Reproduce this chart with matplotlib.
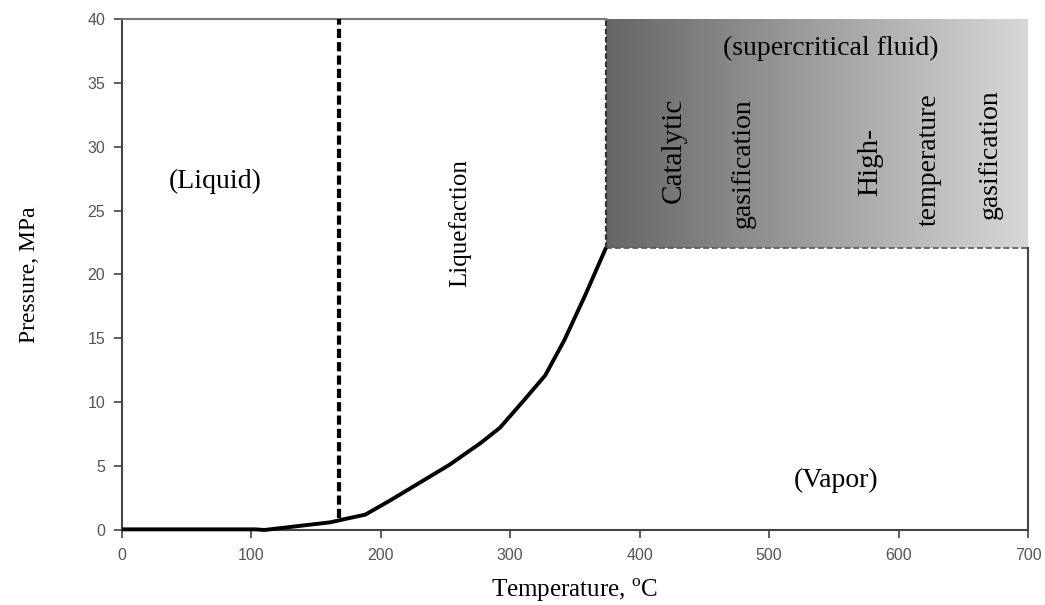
import numpy as np
import matplotlib
matplotlib.use("Agg")
import matplotlib.pyplot as plt
from matplotlib.colors import LinearSegmentedColormap

plt.rcParams['mathtext.fontset'] = 'custom'
plt.rcParams['mathtext.rm'] = 'Liberation Serif'

# boiling curve (temperature C, pressure MPa)
temp = [0, 103, 110, 161, 172, 188, 207, 230, 253, 277, 292, 311, 327, 342, 358, 374]
pres = [0.05, 0.05, 0.0, 0.6, 0.85, 1.2, 2.3, 3.7, 5.1, 6.8, 8.0, 10.2, 12.1, 14.9, 18.4, 22.1]

crit_T = 374
crit_P = 22.1
liq_T = 168
liq_P_low = 0.9

xticks = [0, 100, 200, 300, 400, 500, 600, 700]
yticks = [0, 5, 10, 15, 20, 25, 30, 35, 40]

# region labels: text, x, y, rotation, size
labels = [
    ('(Liquid)', 72, 27.3, 0, 20),
    ('Liquefaction', 261, 24.0, 90, 18),
    ('(supercritical fluid)', 548, 37.7, 0, 20),
    ('Catalytic', 426, 29.7, 90, 21),
    ('gasification', 480, 28.7, 90, 20),
    ('High-', 578, 28.8, 90, 21),
    ('temperature', 624, 29.0, 90, 20),
    ('gasification', 671, 29.4, 90, 20),
    ('(Vapor)', 552, 3.9, 0, 20),
]

serif = 'Liberation Serif'

fig = plt.figure(figsize=(10.45, 6.05), dpi=100)
ax = fig.add_axes([0.1167, 0.124, 0.867, 0.8446])
ax.set_xlim(0, 700)
ax.set_ylim(0, 40)

# supercritical region with grey gradient
grad = np.linspace(0, 1, 256).reshape(1, -1)
cmap = LinearSegmentedColormap.from_list('g', ['#666666', '#d8d8d8'])
ax.imshow(grad, extent=[crit_T, 700, crit_P, 40], aspect='auto', cmap=cmap, zorder=0)
ax.plot([crit_T, crit_T], [crit_P, 40], color='#333333', lw=1.6, ls=(0, (2.5, 1.2)), zorder=2)
ax.plot([crit_T, 700], [crit_P, crit_P], color='#555555', lw=1.2, ls=(0, (3.5, 1.8)), zorder=2)

# spines: top only up to box, right only below box
for s in ['top', 'right']:
    ax.spines[s].set_visible(False)
for s in ['left', 'bottom']:
    ax.spines[s].set_color('#444444')
    ax.spines[s].set_linewidth(1.5)
ax.plot([0, crit_T], [40, 40], color='#777777', lw=1.5, clip_on=False, zorder=3)
ax.plot([700, 700], [0, crit_P], color='#444444', lw=1.5, clip_on=False, zorder=3)

# curves
ax.plot(temp, pres, color='black', lw=2.8, solid_capstyle='butt', clip_on=False, zorder=4)
ax.plot([liq_T, liq_T], [liq_P_low, 40], color='black', lw=3, ls=(0, (2.2, 1.0)), zorder=4)

ax.set_xticks(xticks)
ax.set_yticks(yticks)
ax.tick_params(direction='out', length=6, width=1.2, color='#444444',
               labelsize=11.5, labelcolor='#555555')
ax.tick_params(axis='x', pad=7)
ax.tick_params(axis='y', pad=6)
for lab in ax.get_xticklabels() + ax.get_yticklabels():
    lab.set_family('Liberation Sans')

ax.set_xlabel(r'Temperature, $^{\mathrm{o}}$C', family=serif, fontsize=18, labelpad=10)
ax.set_ylabel('Pressure, MPa', family=serif, fontsize=17, labelpad=34)

for txt, x, y, rot, size in labels:
    ax.text(x, y, txt, family=serif, fontsize=size, rotation=rot, ha='center', va='center')

fig.savefig('out.png', dpi=100)
